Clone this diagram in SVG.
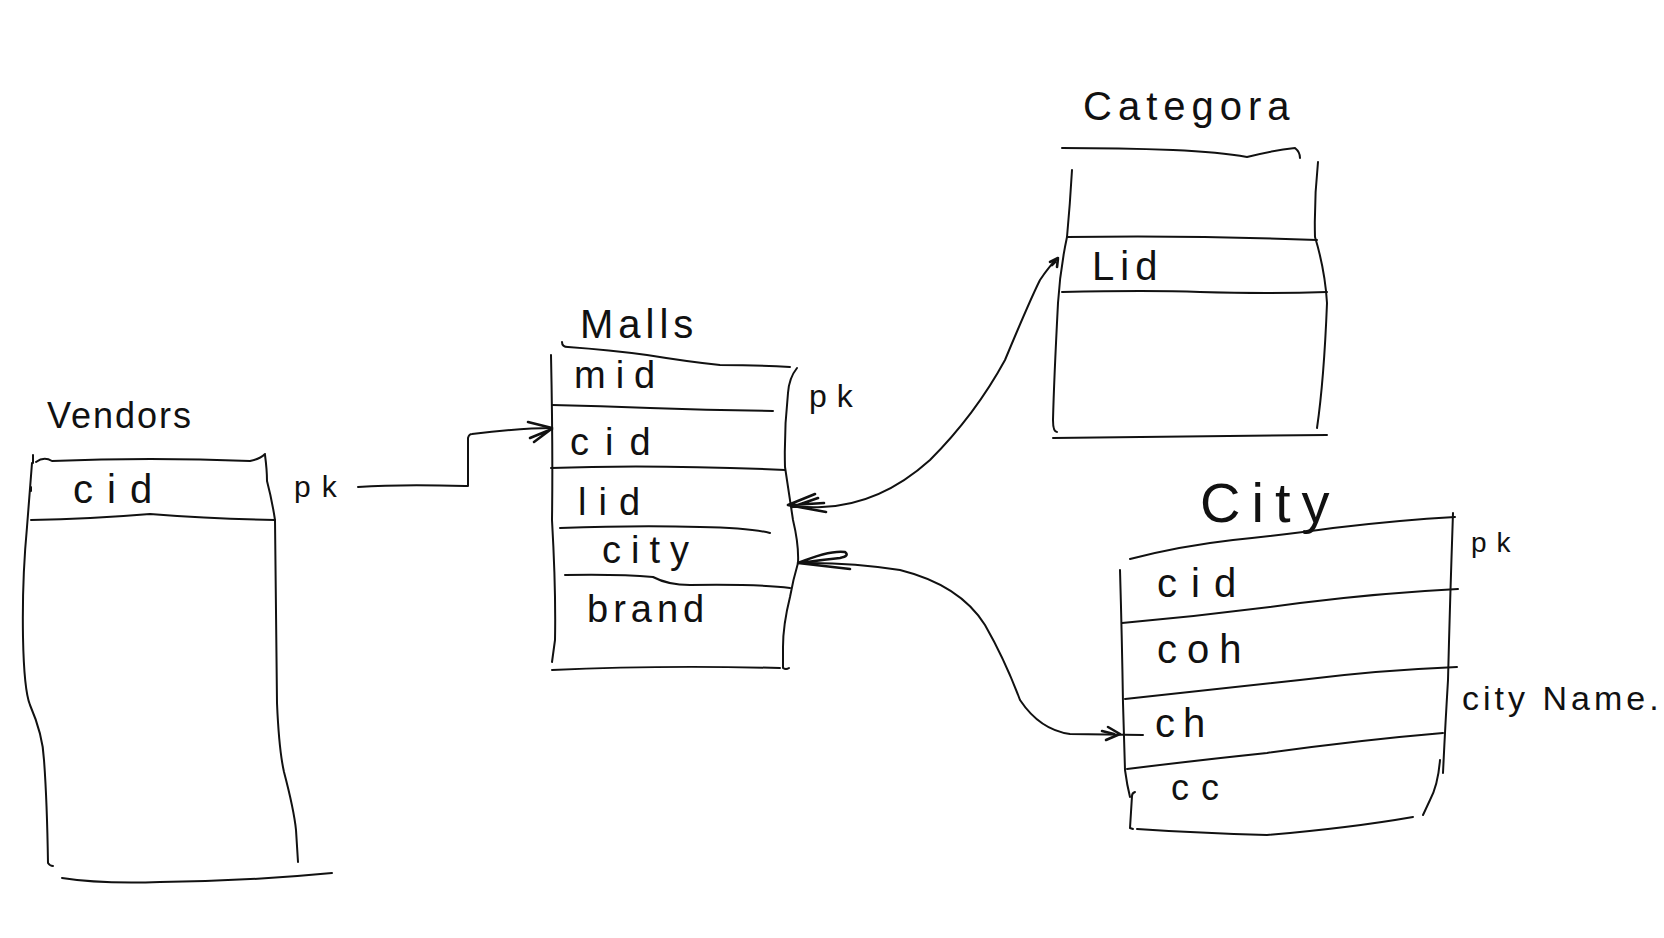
<svg xmlns="http://www.w3.org/2000/svg" width="1664" height="938" viewBox="0 0 1664 938">
<style>
.s{fill:none;stroke:#111;stroke-width:2;stroke-linecap:round;stroke-linejoin:round}
.a{fill:none;stroke:#111;stroke-width:2.6;stroke-linecap:round;stroke-linejoin:round}
text{font-family:"Liberation Sans","DejaVu Sans",sans-serif;fill:#111}
</style>
<rect width="1664" height="938" fill="#fff"/>
<g id="vendors">
<path class="s" d="M33 455 L33 463 M36 462 Q44 456 52 461 Q150 457 250 461 Q260 459 265 454"/>
<path class="s" d="M31 487 L31 491 M32 463 Q29 500 27 527 Q22 580 23 637 Q24 690 30 705 Q43 735 44 760 Q47 800 48 863 Q50 866 53 866"/>
<path class="s" d="M265 455 Q267 470 267 481 Q272 500 275 520 Q276 620 277 703 Q279 750 284 772 Q294 810 296 830 Q297 845 298 862"/>
<path class="s" d="M31 520 Q90 519 150 514 Q215 519 275 520"/>
<path class="s" d="M62 878 Q100 884 160 882 Q250 881 332 873"/>
<text x="47" y="428" font-size="36" letter-spacing="2">Vendors</text>
<text x="73" y="503" font-size="40" letter-spacing="14">cid</text>
<text x="294" y="497" font-size="30" letter-spacing="11">pk</text>
</g>
<g id="malls">
<path class="s" d="M562 342 Q562 347 568 347 Q610 350 647 355 Q690 362 720 365 Q760 365 790 367"/>
<path class="s" d="M551 355 Q553 450 552 520 Q556 590 555 640 L552 662"/>
<path class="s" d="M797 368 Q789 378 788 393 Q784 430 785 467 Q790 500 793 520 Q799 545 798 563 Q793 580 790 597 Q783 625 783 647 L783 668 Q786 670 789 668"/>
<path class="s" d="M552 405 Q600 406 650 408 Q710 410 773 411"/>
<path class="s" d="M551 468 Q650 464 785 470"/>
<path class="s" d="M560 528 Q640 525 700 527 Q750 528 770 533"/>
<path class="s" d="M565 575 Q620 574 653 577 Q668 585 690 585 Q760 584 790 588"/>
<path class="s" d="M552 670 Q660 665 780 668"/>
<text x="580" y="338" font-size="40" letter-spacing="5">Malls</text>
<text x="574" y="388" font-size="38" letter-spacing="10">mid</text>
<text x="570" y="455" font-size="38" letter-spacing="16">cid</text>
<text x="578" y="515" font-size="38" letter-spacing="12">lid</text>
<text x="602" y="563" font-size="38" letter-spacing="10">city</text>
<text x="587" y="622" font-size="38" letter-spacing="5">brand</text>
<text x="809" y="407" font-size="32" letter-spacing="10">pk</text>
</g>
<g id="categora">
<path class="s" d="M1062 148 Q1120 148 1173 150 Q1220 152 1247 157 Q1275 150 1295 148 Q1300 152 1300 158"/>
<path class="s" d="M1072 170 Q1070 205 1067 237 Q1060 270 1058 303 Q1054 380 1053 420 Q1053 432 1057 432"/>
<path class="s" d="M1318 162 Q1314 200 1315 237 Q1325 270 1327 303 Q1324 380 1317 428"/>
<path class="s" d="M1067 237 Q1190 235 1317 240"/>
<path class="s" d="M1062 292 Q1150 290 1200 292 Q1270 294 1327 292"/>
<path class="s" d="M1053 438 Q1190 436 1327 435"/>
<text x="1083" y="120" font-size="40" letter-spacing="6">Categora</text>
<text x="1092" y="280" font-size="40" letter-spacing="6">Lid</text>
</g>
<g id="city">
<path class="s" d="M1130 559 Q1180 546 1233 540 Q1290 534 1333 528 Q1400 520 1455 517"/>
<path class="s" d="M1120 570 Q1122 640 1123 703 Q1124 740 1125 770 Q1127 785 1130 797"/>
<path class="s" d="M1135 792 Q1132 793 1132 796 Q1131 812 1130 828 L1133 829"/>
<path class="s" d="M1453 513 Q1450 600 1448 680 Q1445 730 1443 773"/>
<path class="s" d="M1440 760 Q1438 785 1430 800 L1423 815"/>
<path class="s" d="M1122 623 Q1210 615 1300 603 Q1380 593 1458 589"/>
<path class="s" d="M1125 699 Q1210 690 1300 680 Q1380 670 1457 667"/>
<path class="s" d="M1127 769 Q1200 760 1267 753 Q1360 740 1443 733"/>
<path class="s" d="M1137 829 Q1200 833 1267 835 Q1350 828 1413 817"/>
<text x="1200" y="522" font-size="56" letter-spacing="11">City</text>
<text x="1157" y="597" font-size="40" letter-spacing="14">cid</text>
<text x="1157" y="663" font-size="40" letter-spacing="10">coh</text>
<text x="1155" y="737" font-size="40" letter-spacing="8">ch</text>
<text x="1171" y="800" font-size="36" letter-spacing="12">cc</text>
<text x="1471" y="552" font-size="28" letter-spacing="10">pk</text>
<text x="1462" y="710" font-size="34" letter-spacing="4">city Name.</text>
</g>
<g id="connectors">
<path class="s" d="M358 487 Q400 484 465 486 L468 486 L468 438 Q469 434 472 434 Q520 428 552 428"/>
<path class="a" d="M552 428 L528 422 M552 429 L530 438 M550 430 L534 442"/>
<path class="s" d="M788 505 Q805 508 822 507 Q880 505 930 460 Q975 415 1005 360 Q1030 300 1040 280 Q1050 265 1058 258"/>
<path class="a" d="M788 505 L815 494 M788 505 L826 512 M792 505 L824 503 M792 507 L818 498"/>
<path class="a" d="M1058 258 L1050 262 M1058 258 L1057 267 M1055 262 L1052 265"/>
<path class="s" d="M798 563 Q850 562 900 570 Q960 585 985 625 Q1005 660 1020 700 Q1040 730 1070 734 L1143 735"/>
<path class="a" d="M798 563 Q830 550 845 552 Q850 556 840 558 Q820 560 800 563 M798 563 L850 569"/>
<path class="a" d="M1120 734 L1108 727 M1120 734 L1106 740 M1102 731 L1114 734"/>
</g>
</svg>
